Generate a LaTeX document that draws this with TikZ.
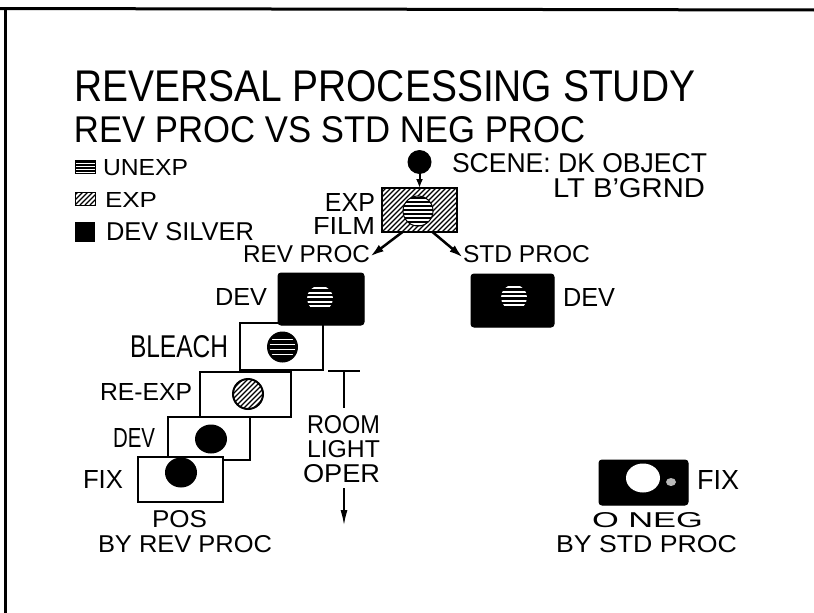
\documentclass[tikz,border=0pt]{standalone}
\usepackage{fontspec}
\setmainfont{Liberation Sans}
\usepackage{graphicx}
\usetikzlibrary{arrows.meta}
\newcommand{\fitt}[3]{\resizebox{#1pt}{#2pt}{#3}}
\tikzset{
  txt/.style={inner sep=0pt, outer sep=0pt, anchor=north west},
  plainbox/.style={draw=black, fill=white, line width=2pt, rectangle, inner sep=0pt, outer sep=0pt},
  darkbox/.style={fill=black, draw=black, line width=1pt, rounded corners=3pt, rectangle, inner sep=0pt, outer sep=0pt},
  arr/.style={line width=2.5pt, -{Latex[length=14pt,width=8pt]}},
  hatchline/.style={line width=1.4pt},
  stripe/.style={line width=1.8pt},
  wstripe/.style={line width=2pt, white},
}
\begin{document}
\begin{tikzpicture}[x=1pt,y=-1pt]
\fill[white] (0,0) rectangle (814,613);
\useasboundingbox (0,0) rectangle (814,613);

% frame
\draw[line width=3pt] (0,8.5) -- (814,10);
\draw[line width=2.5pt] (5.5,9) -- (5.5,613);

% titles
\node[txt] (title1) at (74,70) {\fitt{621}{31}{REVERSAL PROCESSING STUDY}};
\node[txt] (title2) at (74,116) {\fitt{511}{26}{REV PROC  VS  STD NEG PROC}};

% legend
\begin{scope}
  \clip (75,160) rectangle (95,173);
  \foreach \y in {162,165,...,172} \draw[line width=1.2pt] (75,\y) -- (95,\y);
\end{scope}
\node[draw, line width=1.2pt, minimum width=20pt, minimum height=13pt, inner sep=0pt, anchor=north west] (iconU) at (75,160) {};
\node[txt] (lunexp) at (103,159) {\fitt{85}{16}{UNEXP}};

\begin{scope}
  \clip (75,192) rectangle (95,205);
  \foreach \s in {-20,-15,...,25} \draw[line width=1.2pt] (75+\s,205) -- ++(13,-13);
\end{scope}
\node[draw, line width=0.8pt, minimum width=20pt, minimum height=13pt, inner sep=0pt, anchor=north west] (iconE) at (75,192) {};
\node[txt] (lexp) at (105,192) {\fitt{52}{15}{EXP}};

\node[fill=black, minimum width=20pt, minimum height=20pt, inner sep=0pt, anchor=north west] (iconS) at (75,222) {};
\node[txt] (lsilver) at (106,222) {\fitt{148}{18}{DEV SILVER}};

% scene
\node[circle, fill=black, minimum size=24pt, inner sep=0pt] (ball) at (419.5,162) {};
\node[txt] (scene1) at (452,153) {\fitt{255}{19}{SCENE: DK OBJECT}};
\node[txt] (scene2) at (553,178) {\fitt{152}{19}{LT B'GRND}};

% exposed film
\begin{scope}
  \clip (382,188) rectangle (457,232);
  \foreach \s in {-50,-45,...,80} \draw[hatchline] (382+\s,232) -- ++(44,-44);
\end{scope}
\fill[white] (418,211) circle (15);
\begin{scope}
  \clip (418,211) circle (15);
  \foreach \y in {198,202,...,226} \draw[stripe] (400,\y) -- (440,\y);
\end{scope}
\draw[line width=1pt] (418,211) circle (15);
\node[draw, line width=2pt, minimum width=75pt, minimum height=44pt, inner sep=0pt, outer sep=0pt] (film) at (419.5,210) {};
\node[inner sep=0pt, outer sep=0pt, anchor=north east] (lexpfilm) at (375,193)
  {\shortstack[r]{\fitt{50}{18}{EXP}\\[3pt]\fitt{62}{17}{FILM}}};

\draw[line width=2pt, -{Latex[length=9pt,width=7pt]}] (ball) -- (film.north);

\node[txt] (revlbl) at (243,245) {\fitt{127}{17}{REV PROC}};
\node[txt] (stdlbl) at (463,245) {\fitt{127}{17}{STD PROC}};
\draw[arr] ([xshift=-17pt]film.south) -- ([yshift=-3pt]revlbl.east);
\draw[arr] ([xshift=13pt]film.south) -- ([yshift=-4pt]stdlbl.west);

% reversal staircase
\node[plainbox, minimum width=83pt, minimum height=47pt] (bleach) at (281.5,346.5) {};
\node[darkbox, minimum width=86pt, minimum height=52pt] (devR) at (321,299) {};
\begin{scope}
  \clip (320,298.5) circle (13);
  \foreach \y in {288,292.5,...,310} \draw[wstripe] (300,\y) -- (340,\y);
\end{scope}
\node[txt] (ldevR) at (215,288) {\fitt{52}{17}{DEV}};

\fill[black] (282.5,347) circle (15.5);
\begin{scope}
  \clip (282.5,347) circle (13);
  \foreach \y in {339.5,344.5,...,356} \draw[wstripe, line width=1.8pt] (265,\y) -- (300,\y);
\end{scope}
\node[txt] (lbleach) at (130,335) {\fitt{98}{22}{BLEACH}};

\node[plainbox, minimum width=91pt, minimum height=45pt] (reexp) at (245.5,394.5) {};
\begin{scope}
  \clip (248,394) circle (15);
  \foreach \s in {-40,-35,...,40} \draw[hatchline] (233+\s,409) -- ++(30,-30);
\end{scope}
\draw[line width=2pt] (248,394) circle (15);
\node[txt] (lreexp) at (100,383) {\fitt{92}{17}{RE-EXP}};

\node[plainbox, minimum width=82pt, minimum height=43pt] (dev4) at (209,438.5) {};
\fill[black] (211,439) ellipse (16 and 14.5);
\node[txt] (ldev4) at (113,428) {\fitt{42}{19}{DEV}};

\node[plainbox, minimum width=85pt, minimum height=45pt] (fixR) at (180.5,479.5) {};
\fill[black] (181,472.5) ellipse (16 and 15);
\node[txt] (lfixR) at (83,470) {\fitt{40}{18}{FIX}};

\node[txt] (lpos) at (152,510) {\fitt{55}{17}{POS}};
\node[txt] (lbyrev) at (98,535) {\fitt{174}{17}{BY REV PROC}};

% room light operation
\coordinate (tl) at (328,371);
\coordinate (tr) at (360,371);
\coordinate (tt) at (344,371);
\coordinate (tb) at (344,408);
\draw[line width=2pt] (tl) -- (tr);
\draw[line width=2pt] (tt) -- (tb);
\node[txt] (lroom) at (307,415) {\fitt{73}{18}{ROOM}};
\node[txt] (llight) at (307,440) {\fitt{73}{17}{LIGHT}};
\node[txt] (loper) at (303,464) {\fitt{77}{18}{OPER}};
\coordinate (ra) at (344,488);
\coordinate (rb) at (344,526);
\draw[line width=2pt, -{Latex[length=16pt,width=7pt]}] (ra) -- (rb);

% standard processing
\node[darkbox, minimum width=83pt, minimum height=53pt] (devS) at (512.5,300.5) {};
\begin{scope}
  \clip (514,297.5) circle (13);
  \foreach \y in {287,291.5,...,309} \draw[wstripe] (495,\y) -- (535,\y);
\end{scope}
\node[txt] (ldevS) at (563,288) {\fitt{52}{18}{DEV}};

\node[darkbox, minimum width=89pt, minimum height=45pt] (fixS) at (643.5,482.5) {};
\fill[white] (643,478) ellipse (17 and 14.5);
\fill[gray!55] (671,482) ellipse (5 and 4);
\node[txt] (lfixS) at (697,470) {\fitt{42}{19}{FIX}};
\node[txt] (lneg) at (592,512) {\fitt{111}{15}{O NEG}};
\node[txt] (lbystd) at (556,535) {\fitt{181}{17}{BY STD PROC}};
\end{tikzpicture}
\end{document}
